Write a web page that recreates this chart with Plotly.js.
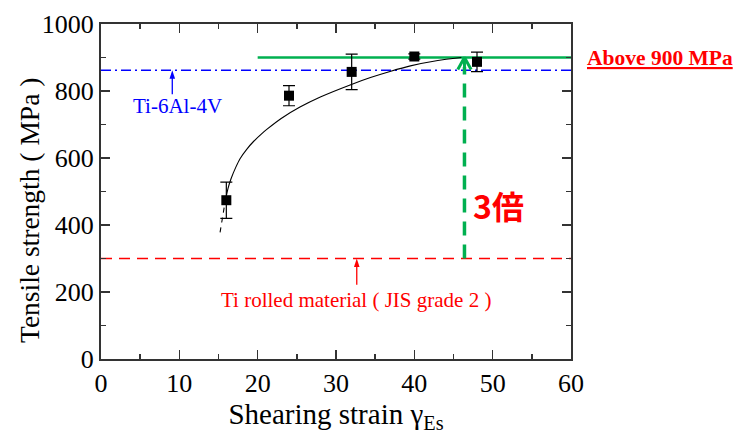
<!DOCTYPE html>
<html>
<head>
<meta charset="utf-8">
<script src="https://cdn.plot.ly/plotly-3.0.1.min.js"></script>
<style>html,body{margin:0;padding:0;background:#fff;}#chart{width:745px;height:434px;}</style>
</head>
<body>
<div id="chart"></div>
<script>
// Measured data
const strain = [16, 24, 32, 40, 48];
const strength = [474, 786, 857, 903, 887];
const strengthErr = [54, 30, 53, 8, 29];

// Fitted curve
const fitStrain = [15.85, 16.2, 16.6, 17.2, 17.75, 18.6, 19.5, 20.5, 21.2, 23, 25.4, 28, 31.8, 34.4, 37, 39.5, 43, 46];
const fitStrength = [470, 508, 538, 572, 598, 626, 650, 672, 686, 718, 752, 782, 818, 840, 859, 875, 891, 900];
const fitTailStrain = [15.2, 15.85];
const fitTailStrength = [378, 470];

// Reference levels
const refNames = ['Ti-6Al-4V', 'Ti rolled material ( JIS grade 2 )', 'Above 900 MPa'];
const refValues = [862, 300, 900];
const refStart = [0, 0, 20];
const refEnd = [60, 60, 60];

// Arrows: x position and tail level (tip is the matching reference level)
const arrowX = [9.1, 32.65, 46.4];
const arrowTail = [790, 222, 300];

const serif = 'Liberation Serif';
const BLUE = '#0000ff', RED = '#ff0000', GREEN = '#00b050';

// Chevron size for the green arrowhead (axis units)
const chevHalfW = 0.85, chevDepth = 36;

const traces = [
  { x: [refStart[0], refEnd[0]], y: [refValues[0], refValues[0]], mode: 'lines',
    line: { color: BLUE, width: 1.3, dash: '10px,4px,2px,4px' }, hoverinfo: 'skip', showlegend: false },
  { x: [refStart[1], refEnd[1]], y: [refValues[1], refValues[1]], mode: 'lines',
    line: { color: RED, width: 1.3, dash: '11px,7px' }, hoverinfo: 'skip', showlegend: false },
  { x: [refStart[2], refEnd[2]], y: [refValues[2], refValues[2]], mode: 'lines',
    line: { color: GREEN, width: 2.5 }, hoverinfo: 'skip', showlegend: false },
  // blue arrow
  { x: [arrowX[0], arrowX[0]], y: [arrowTail[0], refValues[0] - 10], mode: 'lines',
    line: { color: BLUE, width: 1.3 }, hoverinfo: 'skip', showlegend: false },
  { x: [arrowX[0]], y: [refValues[0]], mode: 'markers',
    marker: { symbol: 'arrow', angle: 0, size: 9, color: BLUE, line: { width: 0 } }, hoverinfo: 'skip', showlegend: false },
  // red arrow
  { x: [arrowX[1], arrowX[1]], y: [arrowTail[1], refValues[1] - 10], mode: 'lines',
    line: { color: RED, width: 1.3 }, hoverinfo: 'skip', showlegend: false },
  { x: [arrowX[1]], y: [refValues[1]], mode: 'markers',
    marker: { symbol: 'arrow', angle: 0, size: 9, color: RED, line: { width: 0 } }, hoverinfo: 'skip', showlegend: false },
  // green dashed arrow
  { x: [arrowX[2], arrowX[2]], y: [arrowTail[2], refValues[2] - 28], mode: 'lines',
    line: { color: GREEN, width: 3.5, dash: '14px,9px' }, hoverinfo: 'skip', showlegend: false },
  { x: [arrowX[2] - chevHalfW, arrowX[2], arrowX[2] + chevHalfW],
    y: [refValues[2] - chevDepth, refValues[2], refValues[2] - chevDepth], mode: 'lines',
    line: { color: GREEN, width: 3 }, hoverinfo: 'skip', showlegend: false },
  { x: [arrowX[2], arrowX[2]], y: [refValues[2] - 30, refValues[2]], mode: 'lines',
    line: { color: GREEN, width: 3 }, hoverinfo: 'skip', showlegend: false },
  // fit curve
  { x: fitStrain, y: fitStrength, mode: 'lines', line: { color: '#000', width: 1.1, shape: 'spline', smoothing: 0.6 },
    hoverinfo: 'skip', showlegend: false },
  { x: fitTailStrain, y: fitTailStrength, mode: 'lines', line: { color: '#000', width: 1.1, dash: '5px,5px' },
    hoverinfo: 'skip', showlegend: false },
  // measured points
  { x: strain, y: strength, mode: 'markers', type: 'scatter',
    marker: { symbol: 'square', size: 10, color: '#000' },
    error_y: { type: 'data', array: strengthErr, visible: true, color: '#000', thickness: 1.2, width: 6 },
    showlegend: false }
];

const axisCommon = {
  showline: true, linecolor: '#333', linewidth: 2, mirror: 'ticks',
  ticks: 'inside', ticklen: 9, tickwidth: 1.5, tickcolor: '#333',
  showgrid: false, zeroline: false,
  tickfont: { family: serif, size: 26, color: '#000' }
};

const layout = {
  width: 745, height: 434,
  margin: { l: 101, r: 174, t: 24, b: 75 },
  paper_bgcolor: '#fff', plot_bgcolor: '#fff',
  font: { family: serif },
  xaxis: Object.assign({}, axisCommon, {
    range: [0, 60], dtick: 10, tick0: 0,
    minor: { dtick: 5, ticklen: 5, tickwidth: 1.5, tickcolor: '#333', ticks: 'inside' },
    title: { text: 'Shearing strain γ<sub>Es</sub>', font: { family: serif, size: 29, color: '#000' }, standoff: 12 }
  }),
  yaxis: Object.assign({}, axisCommon, {
    range: [0, 1000], dtick: 200, tick0: 0,
    minor: { dtick: 100, ticklen: 5, tickwidth: 1.5, tickcolor: '#333', ticks: 'inside' }
  }),
  annotations: [
    { xref: 'paper', yref: 'paper', x: (29 - 101) / 470, y: (359 - 211) / 335,
      text: 'Tensile strength ( MPa )', textangle: -90, showarrow: false,
      font: { family: serif, size: 27.5, color: '#000' }, xanchor: 'center', yanchor: 'middle' },
    { x: 9.8, y: 755, xref: 'x', yref: 'y', text: refNames[0], showarrow: false, xanchor: 'center',
      font: { family: serif, size: 21, color: BLUE } },
    { x: 32.5, y: 176, xref: 'x', yref: 'y', text: refNames[1], showarrow: false, xanchor: 'center',
      font: { family: serif, size: 21, color: RED } },
    { xref: 'paper', yref: 'y', x: (660 - 101) / 470, y: refValues[2], xanchor: 'center', yanchor: 'middle',
      text: '<b><u>' + refNames[2] + '</u></b>',
      showarrow: false, font: { family: serif, size: 21.5, color: RED } },
    { x: 50.8, y: 460, xref: 'x', yref: 'y', text: '<b>3倍</b>', showarrow: false, xanchor: 'center',
      font: { family: 'Noto Sans CJK JP', size: 32, color: RED } }
  ]
};

Plotly.newPlot('chart', traces, layout, { displayModeBar: false, staticPlot: true });
</script>
</body>
</html>
